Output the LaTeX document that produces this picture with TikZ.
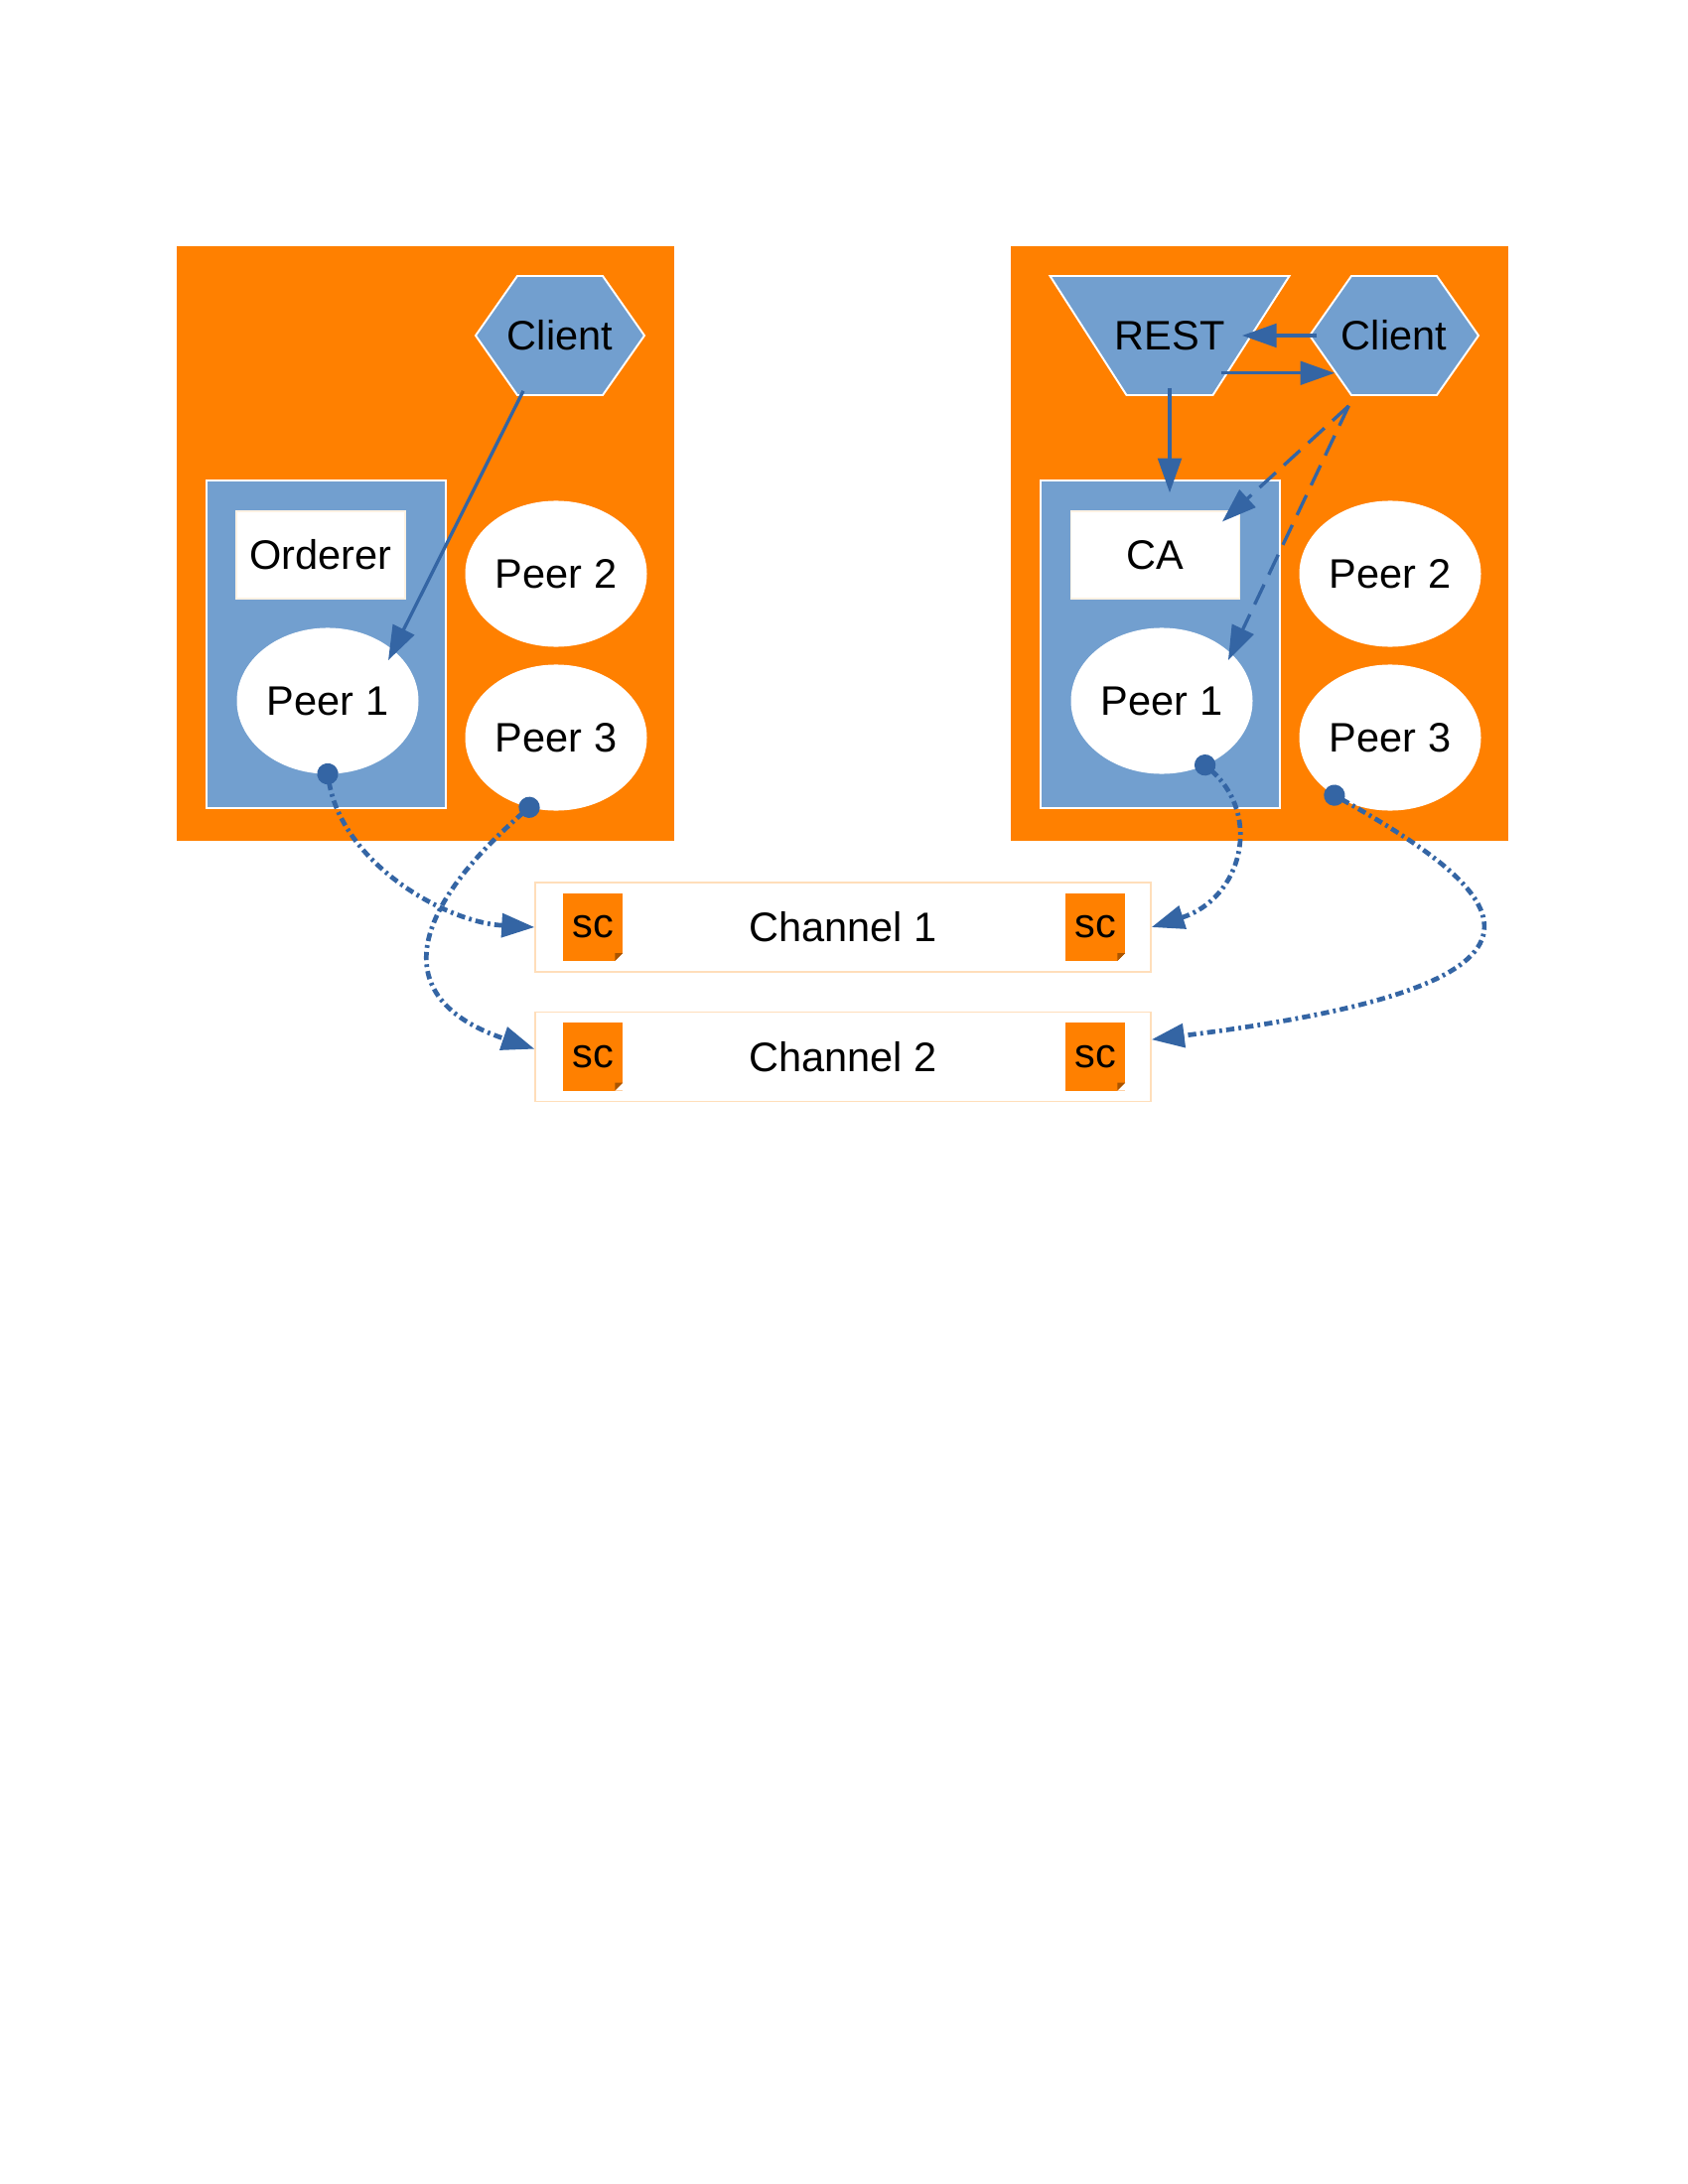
\documentclass[tikz,border=0pt]{standalone}
\usepackage{fontspec}
\setmainfont{Liberation Sans}
\usepackage{tikz}
\usetikzlibrary{positioning,shapes.geometric,arrows.meta}
\definecolor{myorange}{RGB}{255,128,0}
\definecolor{myblue}{RGB}{114,159,207}
\definecolor{mydarkblue}{RGB}{52,101,164}
\definecolor{mypeach}{RGB}{255,222,186}
\definecolor{myfold}{RGB}{170,85,0}

\tikzset{
  orgbox/.style={fill=myorange, minimum width=6.363cm, minimum height=7.607cm, inner sep=0},
  hostbox/.style={fill=myblue, draw=white, line width=0.8pt, minimum width=3.06cm, minimum height=4.19cm, inner sep=0},
  svcbox/.style={fill=white, draw=mypeach!40, line width=0.4pt, minimum width=2.159cm, minimum height=1.118cm, inner sep=0},
  peer/.style={ellipse, fill=white, draw=white, line width=0.4pt, minimum width=2.31cm, minimum height=1.854cm, inner sep=0},
  appshape/.style={fill=myblue, draw=white, line width=0.7pt},
  client/.style={minimum width=2.159cm, minimum height=1.524cm, inner sep=0},
  restbox/.style={minimum width=3.06cm, minimum height=1.524cm, inner sep=0},
  channel/.style={draw=mypeach, fill=white, line width=0.5pt, minimum width=7.874cm, minimum height=1.143cm, inner sep=0},
  scbox/.style={fill=myorange, minimum width=0.762cm, minimum height=0.864cm, inner sep=0,
    path picture={
      \fill[white] (path picture bounding box.south east) -- ++(-0.1cm,0) -- ++(0.1cm,0.1cm) -- cycle;
      \fill[myfold] ([xshift=-0.1cm]path picture bounding box.south east) -- ++(0.1cm,0.1cm) -- ++(-0.1cm,0) -- cycle;
    }},
  link/.style={draw=mydarkblue, line width=1.2pt, -{Triangle[length=0.44cm,width=0.3cm]}},
  dlink/.style={link, dash pattern=on 8pt off 4pt},
  chainlink/.style={draw=mydarkblue, line width=1.7pt, dash pattern=on 3pt off 1.5pt on 1pt off 1.5pt,
    {Circle[length=0.27cm]}-{Triangle[length=0.42cm,width=0.3cm]}, shorten <=-0.135cm}
}

\begin{document}
\begin{tikzpicture}[font=\fontsize{15}{18}\selectfont]
    \begin{scope}[x=1.27cm, y=-1.27cm]
        \useasboundingbox (0,0) rectangle (17,22);
        % Organisation 1
        \node[orgbox] (orgL) at (4.285, 5.475) {};
        \node[hostbox] (hostL) at (3.285, 6.49) {};
        \node[svcbox] (ordererL) at (3.23, 5.59) {Orderer};
        \node[peer] (peerL1) at (3.30, 7.06) {Peer 1};
        \node[peer] (peerL2) at (5.60, 5.78) {Peer 2};
        \node[peer] (peerL3) at (5.60, 7.43) {Peer 3};
        \filldraw[appshape] (5.64, 3.38) ++(-0.85, 0) -- ++(0.42, -0.6) -- ++(0.86, 0) -- ++(0.42, 0.6)
            -- ++(-0.42, 0.6) -- ++(-0.86, 0) -- cycle;
        \node[client] (clientL) at (5.64, 3.38) {Client};
        % Organisation 2
        \node[orgbox] (orgR) at (12.685, 5.475) {};
        \node[hostbox] (hostR) at (11.685, 6.49) {};
        \node[svcbox] (caR) at (11.635, 5.59) {CA};
        \node[peer] (peerR1) at (11.70, 7.06) {Peer 1};
        \node[peer] (peerR2) at (14.00, 5.78) {Peer 2};
        \node[peer] (peerR3) at (14.00, 7.43) {Peer 3};
        \filldraw[appshape] (11.78, 3.38) ++(-1.205, -0.6) -- ++(2.41, 0) -- ++(-0.77, 1.2) -- ++(-0.87, 0) -- cycle;
        \node[restbox] (rest) at (11.78, 3.38) {REST};
        \filldraw[appshape] (14.04, 3.38) ++(-0.85, 0) -- ++(0.42, -0.6) -- ++(0.86, 0) -- ++(0.42, 0.6)
            -- ++(-0.42, 0.6) -- ++(-0.86, 0) -- cycle;
        \node[client] (clientR) at (14.04, 3.38) {Client};
        % Channels
        \node[channel] (chanA) at (8.49, 9.34) {Channel 1};
        \node[channel] (chanB) at (8.49, 10.645) {Channel 2};
        \node[scbox, right=0.36cm of chanA.west] (scA1) {sc};
        \node[scbox, left=0.33cm of chanA.east] (scA2) {sc};
        \node[scbox, right=0.36cm of chanB.west] (scB1) {sc};
        \node[scbox, left=0.33cm of chanB.east] (scB2) {sc};
        % Requests
        \draw[link] ([shift={(-0.47cm,0.06cm)}]clientL.south) -- ([shift={(0.775cm,0.52cm)}]peerL1.center);
        \draw[link] ([xshift=0.1cm]clientR.west) -- ([xshift=-0.61cm]rest.east);
        \draw[link] ([shift={(-0.88cm,-0.48cm)}]rest.east) -- ([shift={(-0.76cm,-0.48cm)}]clientR.center);
        \draw[link] ([yshift=0.1cm]rest.south) -- ([yshift=-0.17cm]rest.south |- hostR.north);
        \draw[dlink] ([shift={(-0.58cm,-0.13cm)}]clientR.south) -- ([shift={(-0.23cm,-0.14cm)}]caR.north east);
        \draw[dlink] ([shift={(-0.58cm,-0.13cm)}]clientR.south) -- ([shift={(0.85cm,0.52cm)}]peerR1.center);
        % Peers joining channels
        \draw[chainlink] (peerL1.south) .. controls +(0.15,0.9) and +(-0.9,-0.05) .. (chanA.west);
        \draw[chainlink] (peerL3.249) .. controls +(-1.32,1.15) and +(-1.39,-0.47) .. ([yshift=0.1cm]chanB.west);
        \draw[chainlink] (peerR1.304) .. controls +(0.58,0.51) and +(0.91,-0.29) .. (chanA.east);
        \draw[chainlink] (peerR3.226) .. controls +(1.73,0.97) and +(4.61,-0.57) .. ([yshift=0.22cm]chanB.east);
    \end{scope}
\end{tikzpicture}
\end{document}
